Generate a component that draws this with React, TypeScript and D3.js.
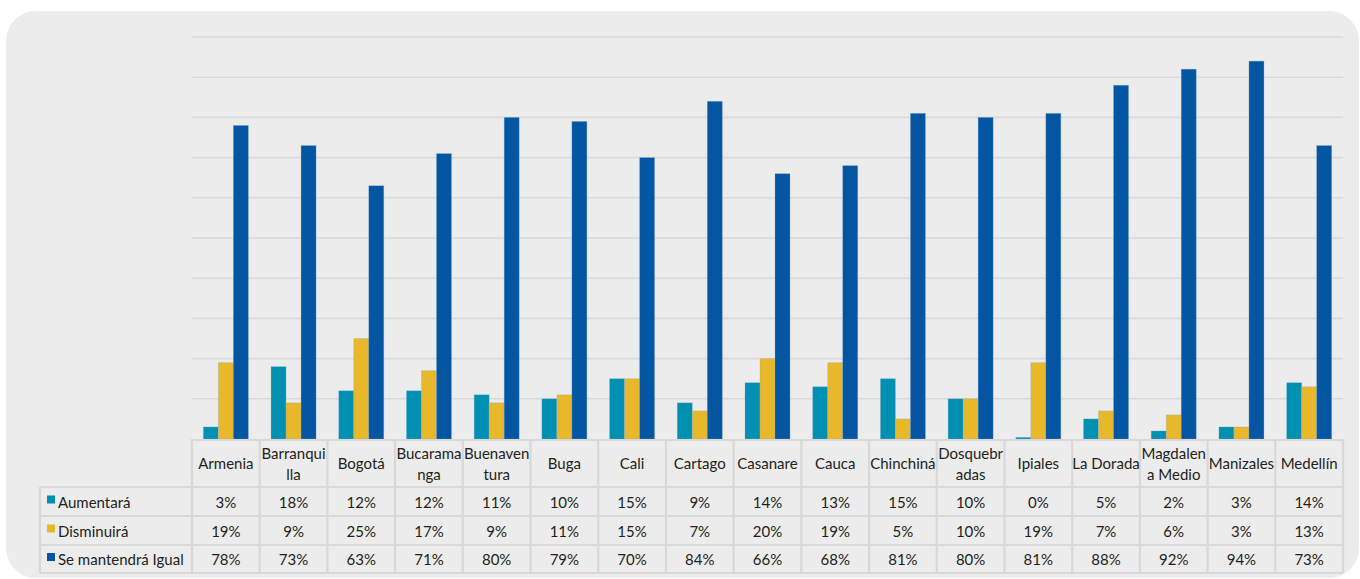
import React from "react";
import * as d3 from "d3";

const categories = [
  ["Armenia"], ["Barranqui", "lla"], ["Bogotá"], ["Bucarama", "nga"], ["Buenaven", "tura"],
  ["Buga"], ["Cali"], ["Cartago"], ["Casanare"], ["Cauca"], ["Chinchiná"],
  ["Dosquebr", "adas"], ["Ipiales"], ["La Dorada"], ["Magdalen", "a Medio"], ["Manizales"], ["Medellín"],
];
const seriesNames = ["Aumentará", "Disminuirá", "Se mantendrá Igual"];
const aumentara = [3, 18, 12, 12, 11, 10, 15, 9, 14, 13, 15, 10, 0.4, 5, 2, 3, 14];
const disminuira = [19, 9, 25, 17, 9, 11, 15, 7, 20, 19, 5, 10, 19, 7, 6, 3, 13];
const mantendra = [78, 73, 63, 71, 80, 79, 70, 84, 66, 68, 81, 80, 81, 88, 92, 94, 73];
const aumentaraLabels = ["3%", "18%", "12%", "12%", "11%", "10%", "15%", "9%", "14%", "13%", "15%", "10%", "0%", "5%", "2%", "3%", "14%"];
const disminuiraLabels = ["19%", "9%", "25%", "17%", "9%", "11%", "15%", "7%", "20%", "19%", "5%", "10%", "19%", "7%", "6%", "3%", "13%"];
const mantendraLabels = ["78%", "73%", "63%", "71%", "80%", "79%", "70%", "84%", "66%", "68%", "81%", "80%", "81%", "88%", "92%", "94%", "73%"];
const yTicks = [0, 10, 20, 30, 40, 50, 60, 70, 80, 90, 100];

const colors = ["#0190b1", "#e8b82a", "#0455a2"];
const seriesValues = [aumentara, disminuira, mantendra];
const seriesLabels = [aumentaraLabels, disminuiraLabels, mantendraLabels];

const W = 1360, H = 579;
const plotLeft = 192, plotRight = 1343, plotTop = 37, plotBottom = 439;
const tableLeft = 40;
const rowEdges = [439, 487, 516, 545, 573];
const FONT = "Lato, 'Open Sans', sans-serif";
const TEXT = "#231f20";
const BORDER = "#d8d8d8";
const FS = 15;

export default function App() {
  const keys = categories.map((c) => c.join(""));
  const y = d3.scaleLinear().domain([0, 100]).range([plotBottom, plotTop]);
  const x0 = d3.scaleBand().domain(keys).range([plotLeft, plotRight]).paddingInner(0.335).paddingOuter(0.1675);
  const x1 = d3.scaleBand().domain(seriesNames).range([0, x0.bandwidth()]);
  const col = d3.scaleBand().domain(keys).range([plotLeft, plotRight]);

  return (
    <svg width={W} height={H} style={{ position: "absolute", left: 0, top: 0 }} fontFamily={FONT}>
      <rect x={0} y={0} width={W} height={H} fill="#ffffff" />
      <rect x={6} y={11} width={1353} height={567} rx={30} ry={30} fill="#ececec" />
      {/* gridlines */}
      {yTicks.slice(1).map((t) => (
        <line key={t} x1={plotLeft} x2={plotRight} y1={y(t)} y2={y(t)} stroke="#d9d9d9" strokeWidth={1.6} />
      ))}
      {/* bars */}
      {keys.map((k, i) => (
        <g key={k} transform={`translate(${x0(k)},0)`}>
          {seriesNames.map((s, j) => {
            const v = seriesValues[j][i];
            return (
              <rect key={s} x={x1(s)} y={y(v)} width={x1.bandwidth()} height={plotBottom - y(v)}
                fill={colors[j]} stroke="#7fb0d8" strokeOpacity={0.35} strokeWidth={0.8} />
            );
          })}
        </g>
      ))}
      {/* table borders */}
      <g stroke={BORDER} strokeWidth={2.2} fill="none">
        <line x1={plotLeft} x2={plotRight} y1={rowEdges[0] + 1} y2={rowEdges[0] + 1} />
        {rowEdges.slice(1).map((r) => (
          <line key={r} x1={tableLeft} x2={plotRight} y1={r} y2={r} />
        ))}
        <line x1={tableLeft} x2={tableLeft} y1={rowEdges[1]} y2={rowEdges[4]} />
        {keys.map((k) => (
          <line key={k} x1={col(k)} x2={col(k)} y1={rowEdges[0]} y2={rowEdges[4]} />
        ))}
        <line x1={plotRight} x2={plotRight} y1={rowEdges[0]} y2={rowEdges[4]} />
      </g>
      {/* header labels */}
      {categories.map((lines, i) => {
        const cx = (col(keys[i]) as number) + col.bandwidth() / 2;
        const mid = (rowEdges[0] + rowEdges[1]) / 2 + 1;
        return (
          <text key={keys[i]} x={cx} textAnchor="middle" fontSize={FS} fill={TEXT}>
            {lines.map((l, li) => (
              <tspan key={li} x={cx} y={mid + (li - (lines.length - 1) / 2) * 21} dy="0.35em">{l}</tspan>
            ))}
          </text>
        );
      })}
      {/* rows */}
      {seriesNames.map((s, j) => {
        const mid = (rowEdges[j + 1] + rowEdges[j + 2]) / 2;
        return (
          <g key={s}>
            <rect x={47} y={mid - 6} width={8} height={8} fill={colors[j]} />
            <text x={58} y={mid + 1} dy="0.35em" fontSize={FS} fill={TEXT}>{s}</text>
            {keys.map((k, i) => (
              <text key={k} x={(col(k) as number) + col.bandwidth() / 2} y={mid + 1} dy="0.35em"
                textAnchor="middle" fontSize={FS} fill={TEXT}>{seriesLabels[j][i]}</text>
            ))}
          </g>
        );
      })}
    </svg>
  );
}
